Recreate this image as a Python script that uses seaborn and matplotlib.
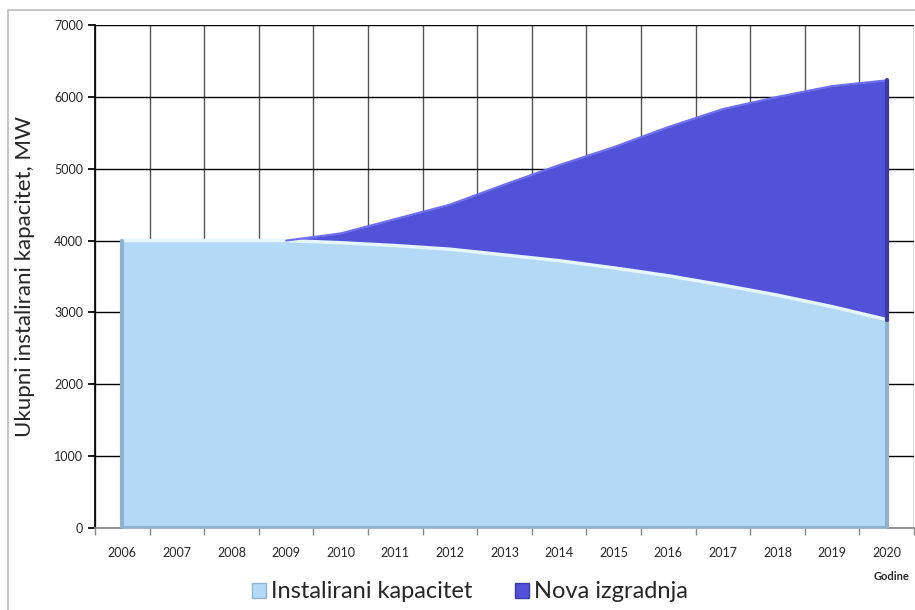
import matplotlib
matplotlib.use("Agg")
import matplotlib.pyplot as plt
import numpy as np
import pandas as pd
import seaborn as sns
from matplotlib.patches import Rectangle

# --------------------------------------------------------------------------- #
# Data
# --------------------------------------------------------------------------- #
years = ["2006", "2007", "2008", "2009", "2010", "2011", "2012", "2013",
         "2014", "2015", "2016", "2017", "2018", "2019", "2020"]
instalirani = [4000, 4000, 4000, 4000, 3970, 3930, 3880, 3800,
               3720, 3620, 3510, 3380, 3240, 3080, 2900]
nova = [0, 0, 0, 0, 130, 370, 620, 980,
        1330, 1680, 2070, 2450, 2760, 3070, 3330]
y_ticks = [0, 1000, 2000, 3000, 4000, 5000, 6000, 7000]

C_LIGHT = "#B3D9F7"
C_LIGHT_EDGE = "#8FB3CF"
C_BLUE = "#5252D9"
C_BLUE_EDGE = "#3A3AA8"

df = pd.DataFrame({"year": years, "instalirani": instalirani, "nova": nova})
df["x"] = np.arange(len(df))
df["total"] = df["instalirani"] + df["nova"]

sns.set_theme(style="white")
plt.rcParams["font.family"] = ["Lato", "DejaVu Sans"]

fig = plt.figure(figsize=(9.15, 6.1), dpi=100)
ax = fig.add_axes([95 / 915, 1 - 528 / 610, (914 - 95) / 915, (528 - 25) / 610])

# outer chart border
fig.patches.append(Rectangle((8 / 915, -0.01), 1.0, 1 - 10 / 610 + 0.01,
                             transform=fig.transFigure, fill=False,
                             edgecolor="#BBBBBB", linewidth=1.2, zorder=0))

# stacked areas
ax.fill_between(df["x"], 0, df["instalirani"], color=C_LIGHT, zorder=3,
                linewidth=0)
ax.fill_between(df["x"], df["instalirani"], df["total"], color=C_BLUE,
                zorder=3, linewidth=0)
# bevel-ish edges
sns.lineplot(data=df, x="x", y="instalirani", ax=ax, color="#E6F6FF",
             linewidth=2.5, zorder=4)
sns.lineplot(data=df[df["x"] >= 3], x="x", y="total", ax=ax,
             color="#6E6EF0", linewidth=1.5, zorder=4)
ax.plot([0, 0], [0, instalirani[0]], color=C_LIGHT_EDGE, lw=3, zorder=4)
ax.plot([0, 14], [0, 0], color=C_LIGHT_EDGE, lw=3, zorder=4)
ax.plot([14, 14], [0, instalirani[-1]], color=C_LIGHT_EDGE, lw=3, zorder=4)
ax.plot([14, 14], [instalirani[-1], df["total"].iloc[-1]], color=C_BLUE_EDGE,
        lw=3, zorder=4)

ax.set_xlim(-0.5, len(years) - 0.5)
ax.set_ylim(0, 7000)

ax.set_xticks(df["x"])
ax.set_xticklabels(years, fontsize=9)
ax.set_xticks(np.arange(-0.5, len(years), 1.0), minor=True)
ax.tick_params(axis="x", which="major", length=0, pad=14)
ax.tick_params(axis="x", which="minor", length=5, color="#888888",
               direction="out", bottom=True)
ax.set_yticks(y_ticks)
ax.set_yticklabels([str(v) for v in y_ticks], fontsize=9)
ax.tick_params(axis="y", length=5, color="black", direction="out", left=True)

ax.grid(False)
ax.yaxis.grid(True, color="black", linewidth=1, zorder=0)
ax.xaxis.grid(True, which="minor", color="#555555", linewidth=1, zorder=0)
ax.set_axisbelow(True)

for side in ["top", "right"]:
    ax.spines[side].set_visible(False)
ax.spines["left"].set_color("black")
ax.spines["bottom"].set_color("#888888")

ax.set_xlabel("")
ax.set_ylabel("Ukupni instalirani kapacitet, MW", fontsize=16, labelpad=14)
fig.text(910 / 915, 1 - 576 / 610, "Godine", fontsize=8, fontweight="bold",
         ha="right", va="center")

handles = [Rectangle((0, 0), 1, 1, facecolor=C_LIGHT, edgecolor=C_LIGHT_EDGE),
           Rectangle((0, 0), 1, 1, facecolor=C_BLUE, edgecolor=C_BLUE_EDGE)]
fig.legend(handles, ["Instalirani kapacitet", "Nova izgradnja"],
           loc="center", bbox_to_anchor=(470 / 915, 1 - 592 / 610), ncol=2,
           frameon=False, handlelength=0.6, handleheight=0.6,
           handletextpad=0.2, columnspacing=1.8,
           prop={"size": 17})

fig.savefig("out.png", dpi=100)
